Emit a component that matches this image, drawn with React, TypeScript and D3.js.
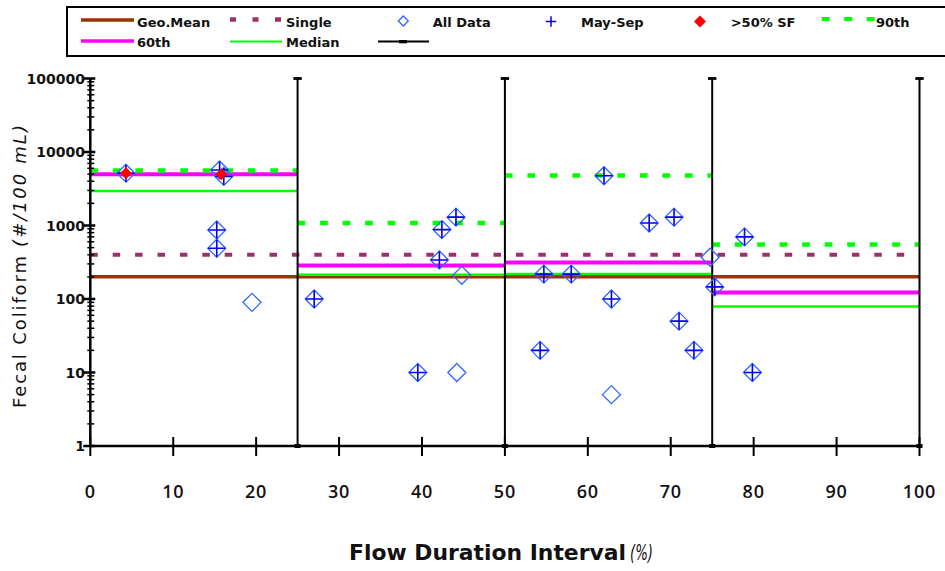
import React from "react";
import * as d3 from "d3";

// ---- Data ----
const INTERVAL_START = [0, 25, 50, 75];
const INTERVAL_END = [25, 50, 75, 100];
const P90 = [5600, 1080, 4800, 550];
const P60 = [5000, 286, 314, 123];
const MEDIAN = [2950, 214, 218, 79];
const GEO_MEAN = 200;
const SINGLE = 400;
const BOUNDARIES = [25, 50, 75, 100];

// All Data points [flow %, fecal coliform]
const ALL_DATA: [number, number][] = [
  [4.3, 5150], [15.6, 5700], [16.1, 4650], [15.25, 870], [15.25, 490], [19.5, 90],
  [27.0, 100], [42.4, 880], [44.1, 1300], [42.1, 340], [44.8, 210], [39.5, 10], [44.2, 10],
  [61.95, 4750], [67.4, 1080], [70.4, 1300], [74.75, 370], [54.7, 218], [58.0, 218],
  [62.85, 100], [75.3, 146], [71.0, 50], [54.25, 20], [72.8, 20], [62.85, 5],
  [78.9, 700], [79.85, 10],
];
// May-Sep subset
const MAY_SEP: [number, number][] = [
  [4.3, 5150], [15.6, 5700], [16.1, 4650], [15.25, 870], [15.25, 490],
  [27.0, 100], [42.4, 880], [44.1, 1300], [42.1, 340], [39.5, 10],
  [61.95, 4750], [67.4, 1080], [70.4, 1300], [54.7, 218], [58.0, 218],
  [62.85, 100], [75.3, 146], [71.0, 50], [54.25, 20], [72.8, 20],
  [78.9, 700], [79.85, 10],
];
// >50% SF
const SF50: [number, number][] = [[4.3, 5150], [15.8, 5000]];

const X_TICKS = [0, 10, 20, 30, 40, 50, 60, 70, 80, 90, 100];
const Y_TICKS = [1, 10, 100, 1000, 10000, 100000];

const BROWN = "#993300";
const PLUM = "#993366";
const MAGENTA = "#FF00FF";
const GREEN = "#00FF00";
const DIAMOND_BLUE = "#3366FF";
const PLUS_BLUE = "#0000EE";
const RED = "#FF0000";

const x = d3.scaleLinear().domain([0, 100]).range([90.3, 919.5]);
const y = d3.scaleLog().domain([1, 100000]).range([446, 78.5]);

const diamondPath = (cx: number, cy: number, r: number) =>
  `M${cx},${cy - r}L${cx + r},${cy}L${cx},${cy + r}L${cx - r},${cy}Z`;
const plusPath = (cx: number, cy: number, r: number) =>
  `M${cx - r},${cy}H${cx + r}M${cx},${cy - r}V${cy + r}`;

export default function App() {
  const minorTicks: number[] = [];
  for (let d = 1; d < 100000; d *= 10) {
    for (let k = 2; k <= 9; k++) minorTicks.push(d * k);
  }
  const legendFont = {
    fontFamily: "'DejaVu Sans', Verdana, sans-serif",
    fontWeight: 700,
    fontSize: 13,
    fill: "#111",
  } as const;

  return (
    <svg
      width={945}
      height={571}
      style={{ position: "absolute", left: 0, top: 0, background: "#fff" }}
    >
      <rect x={0} y={0} width={945} height={571} fill="#fff" />

      {/* Legend */}
      <rect x={67} y={7} width={895} height={49} fill="#fff" stroke="#000" strokeWidth={2} />
      <line x1={81} x2={134} y1={20} y2={20} stroke={BROWN} strokeWidth={3.5} />
      <text x={137} y={27} {...legendFont}>Geo.Mean</text>
      <line x1={230} x2={282} y1={19.5} y2={19.5} stroke={PLUM} strokeWidth={4.5} strokeDasharray="6 16.5" />
      <text x={286} y={27} {...legendFont}>Single</text>
      <path d={diamondPath(403.3, 21, 5)} fill="none" stroke={DIAMOND_BLUE} strokeWidth={1.3} />
      <text x={432.7} y={27} {...legendFont}>All Data</text>
      <path d={plusPath(551, 21.5, 5.3)} fill="none" stroke={PLUS_BLUE} strokeWidth={1.5} />
      <text x={581} y={27} {...legendFont}>May-Sep</text>
      <path d={diamondPath(700, 21.5, 6)} fill={RED} stroke="none" />
      <text x={730.7} y={27} {...legendFont}>&gt;50% SF</text>
      <line x1={821.7} x2={875} y1={19} y2={19} stroke={GREEN} strokeWidth={4} strokeDasharray="8 14.5" />
      <text x={876} y={27} {...legendFont}>90th</text>

      <line x1={81} x2={134} y1={41} y2={41} stroke={MAGENTA} strokeWidth={3.5} />
      <text x={137} y={47} {...legendFont}>60th</text>
      <line x1={230} x2={282} y1={41.5} y2={41.5} stroke={GREEN} strokeWidth={2} />
      <text x={286} y={47} {...legendFont}>Median</text>
      <line x1={378} x2={429} y1={41.5} y2={41.5} stroke="#000" strokeWidth={2} />
      <rect x={399} y={40} width={8} height={3.3} fill="#000" />

      {/* Criterion lines */}
      <line x1={x(0)} x2={x(100)} y1={y(GEO_MEAN)} y2={y(GEO_MEAN)} stroke={BROWN} strokeWidth={3.5} />
      <line x1={x(0)} x2={x(100)} y1={y(SINGLE)} y2={y(SINGLE)} stroke={PLUM} strokeWidth={4} strokeDasharray="7.5 14.9" />

      {/* Interval statistics */}
      {INTERVAL_START.map((s, i) => (
        <g key={"iv" + i}>
          <line x1={x(s)} x2={x(INTERVAL_END[i])} y1={y(MEDIAN[i])} y2={y(MEDIAN[i])} stroke={GREEN} strokeWidth={2.5} />
          <line x1={x(s)} x2={x(INTERVAL_END[i])} y1={y(P60[i])} y2={y(P60[i])} stroke={MAGENTA} strokeWidth={4} />
          <line x1={x(s)} x2={x(INTERVAL_END[i])} y1={y(P90[i])} y2={y(P90[i])} stroke={GREEN} strokeWidth={4.5} strokeDasharray="7.7 14.8" />
        </g>
      ))}

      {/* Boundary lines */}
      {BOUNDARIES.map((b) => (
        <g key={"b" + b}>
          <line x1={x(b)} x2={x(b)} y1={y(1)} y2={y(100000)} stroke="#000" strokeWidth={2} />
          <line x1={x(b) - 4.2} x2={x(b) + 4.2} y1={y(100000)} y2={y(100000)} stroke="#000" strokeWidth={2.8} />
          <rect x={x(b) - 3} y={y(1) - 2} width={6} height={4} fill="#000" />
        </g>
      ))}

      {/* Axes */}
      <line x1={x(0)} x2={x(0)} y1={y(1)} y2={y(100000)} stroke="#000" strokeWidth={2.5} />
      {minorTicks.map((t) => (
        <line key={"mt" + t} x1={x(0) - 3} x2={x(0) + 4} y1={y(t)} y2={y(t)} stroke="#000" strokeWidth={1.5} />
      ))}
      {Y_TICKS.map((t) => (
        <g key={"yt" + t}>
          <line x1={x(0) - 7} x2={x(0) + 5} y1={y(t)} y2={y(t)} stroke="#000" strokeWidth={2.5} />
          <text
            x={85}
            y={y(t) + 5}
            textAnchor="end"
            fontFamily="'DejaVu Sans', Verdana, sans-serif"
            fontWeight={700}
            fontSize={14}
            fill="#111"
          >
            {t}
          </text>
        </g>
      ))}
      <line x1={x(0)} x2={x(100)} y1={y(1)} y2={y(1)} stroke="#000" strokeWidth={2.5} />
      {X_TICKS.map((t) => (
        <g key={"xt" + t}>
          <line x1={x(t)} x2={x(t)} y1={437} y2={456} stroke="#000" strokeWidth={2} />
          <text
            x={x(t)}
            y={498}
            textAnchor="middle"
            fontFamily="'Open Sans', 'Noto Sans', sans-serif"
            fontWeight={600}
            fontSize={18}
            letterSpacing={0.8}
            fill="#111"
          >
            {t}
          </text>
        </g>
      ))}

      {/* Data points */}
      {ALL_DATA.map(([fx, v], i) => (
        <path key={"ad" + i} d={diamondPath(x(fx), y(v), 9)} fill="none" stroke={DIAMOND_BLUE} strokeWidth={1.3} />
      ))}
      {MAY_SEP.map(([fx, v], i) => (
        <path key={"ms" + i} d={plusPath(x(fx), y(v), 8.5)} fill="none" stroke={PLUS_BLUE} strokeWidth={1.6} />
      ))}
      {SF50.map(([fx, v], i) => (
        <path key={"sf" + i} d={diamondPath(x(fx), y(v), 6)} fill={RED} stroke="none" />
      ))}

      {/* Axis titles */}
      <g transform="translate(26,408) rotate(-90)">
        <text
          x={0}
          y={0}
          fontFamily="'DejaVu Sans', Verdana, sans-serif"
          fontSize={18}
          fill="#111"
          textLength={152}
          lengthAdjust="spacing"
        >
          Fecal Coliform
        </text>
        <text
          x={161}
          y={0}
          fontFamily="'DejaVu Sans', Verdana, sans-serif"
          fontSize={18}
          fontStyle="italic"
          fill="#111"
          textLength={122}
          lengthAdjust="spacing"
        >
          (#/100 mL)
        </text>
      </g>
      <text
        x={349}
        y={560}
        fontFamily="'DejaVu Sans', sans-serif"
        fontWeight={700}
        fontSize={22}
        fill="#111"
        textLength={277}
        lengthAdjust="spacingAndGlyphs"
      >
        Flow Duration Interval
      </text>
      <text
        x={630}
        y={560}
        fontFamily="'DejaVu Sans', sans-serif"
        fontStyle="italic"
        fontSize={22}
        fill="#111"
        textLength={23}
        lengthAdjust="spacingAndGlyphs"
      >
        (%)
      </text>
    </svg>
  );
}
